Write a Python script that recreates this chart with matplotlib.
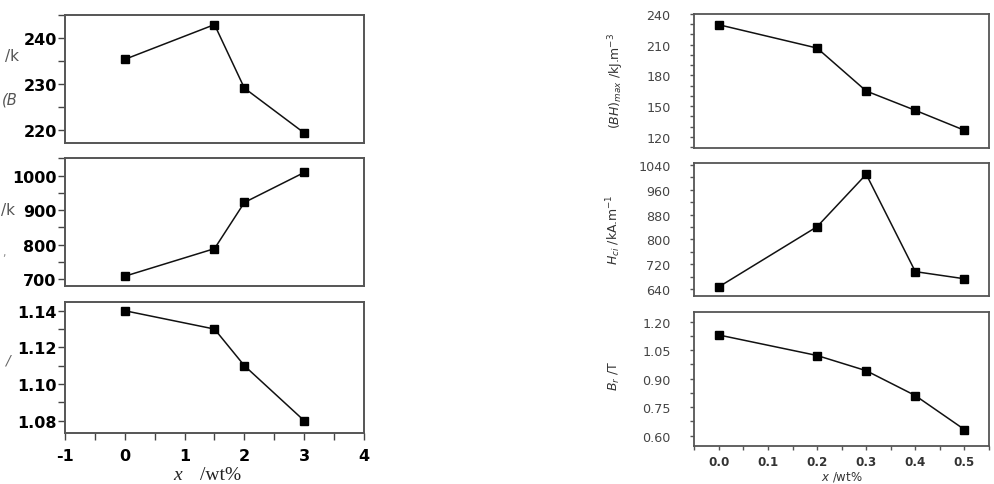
import numpy as np
import matplotlib.pyplot as plt
from matplotlib.ticker import MultipleLocator

plt.rcParams['axes.unicode_minus'] = False

# left figure (x = 0..3 wt%)
x_left = [0, 1.5, 2, 3]
bh_left = [235.4, 243.0, 229.1, 219.3]
hci_left = [708, 788, 922, 1009]
br_left = [1.14, 1.13, 1.11, 1.08]

# right figure (x = 0..0.5 wt%)
x_right = [0.0, 0.2, 0.3, 0.4, 0.5]
bh_right = [229.5, 206.7, 164.7, 145.8, 126.3]
hci_right = [647, 841, 1010, 696, 673]
br_right = [1.13, 1.022, 0.942, 0.811, 0.632]

W, H = 995, 485
fig = plt.figure(figsize=(W/100, H/100), dpi=100)


def caja(l, t, r, b):
    return fig.add_axes([l/W, 1-b/H, (r-l)/W, (b-t)/H])


def estilo(ax, color, lw):
    for s in ax.spines.values():
        s.set_color(color)
        s.set_linewidth(lw)


def izquierda(ax, x, y, ylim, mayor, menor, conx=False):
    ax.plot(x, y, '-s', color='#111111', lw=1.1, ms=5.5, mfc='black', mec='black')
    ax.set_xlim(-1, 4)
    ax.set_ylim(*ylim)
    ax.yaxis.set_major_locator(MultipleLocator(mayor))
    ax.yaxis.set_minor_locator(MultipleLocator(menor))
    ax.tick_params(axis='y', which='both', direction='out', length=5, width=1,
                   color='#444444', pad=1, labelsize=11.5)
    for t in ax.get_yticklabels():
        t.set_fontweight('bold')
    estilo(ax, '#555555', 1.4)
    if conx:
        ax.xaxis.set_major_locator(MultipleLocator(1))
        ax.xaxis.set_minor_locator(MultipleLocator(0.5))
        ax.tick_params(axis='x', which='both', direction='out', length=5, width=1,
                       color='#444444', pad=6, labelsize=11.5)
        for t in ax.get_xticklabels():
            t.set_fontweight('bold')
    else:
        ax.set_xticks([])


def derecha(ax, x, y, ylim, mayor, menor, conx=False):
    ax.plot(x, y, '-s', color='#111111', lw=1.1, ms=5.5, mfc='black', mec='black')
    ax.set_xlim(-0.05, 0.55)
    ax.set_ylim(*ylim)
    ax.yaxis.set_major_locator(MultipleLocator(mayor))
    ax.yaxis.set_minor_locator(MultipleLocator(menor))
    ax.tick_params(axis='y', which='both', direction='out', length=3, width=1,
                   color='#555555', pad=14, labelsize=9.2, labelcolor='#444444')
    estilo(ax, '#555555', 1.3)
    if conx:
        ax.xaxis.set_major_locator(MultipleLocator(0.1))
        ax.xaxis.set_minor_locator(MultipleLocator(0.05))
        ax.tick_params(axis='x', which='both', direction='out', length=3, width=1,
                       color='#555555', pad=4, labelsize=8.6, labelcolor='#333333')
        for t in ax.get_xticklabels():
            t.set_fontweight('bold')
    else:
        ax.set_xticks([])


a1 = caja(65, 16, 364, 144)
izquierda(a1, x_left, bh_left, (217.1, 245.1), 10, 5)
a2 = caja(65, 159, 364, 286.7)
izquierda(a2, x_left, hci_left, (680.5, 1051), 100, 50)
a3 = caja(65, 303.3, 364, 434)
izquierda(a3, x_left, br_left, (1.0733, 1.1446), 0.02, 0.01, conx=True)

b1 = caja(694.3, 15, 989, 149.3)
derecha(b1, x_right, bh_right, (108.7, 240), 30, 10)
b2 = caja(694.3, 164.3, 989, 296.7)
derecha(b2, x_right, hci_right, (618.4, 1045.5), 80, 40)
b3 = caja(694.3, 313.3, 989, 446.7)
derecha(b3, x_right, br_right, (0.547, 1.2495), 0.15, 0.075, conx=True)

# etiquetas del eje y (figura derecha)
fig.text(616/W, 1-81/H, r'$(BH)_{max}$ /kJ.m$^{-3}$', rotation=90,
         ha='center', va='center', fontsize=9, color='#333333')
fig.text(614/W, 1-230/H, r'$H_{ci}$ /kA.m$^{-1}$', rotation=90,
         ha='center', va='center', fontsize=9, color='#333333')
fig.text(614/W, 1-376/H, r'$B_r$ /T', rotation=90,
         ha='center', va='center', fontsize=9, color='#333333')

# restos recortados de las etiquetas de la figura izquierda
fig.text(12/W, 1-57/H, '/k', ha='center', va='center', fontsize=11, color='#555555')
fig.text(10/W, 1-100/H, '(B', ha='center', va='center', fontsize=10.5,
         color='#555555', style='italic')
fig.text(8/W, 1-211/H, '/k', ha='center', va='center', fontsize=11, color='#555555')
fig.text(4/W, 1-253/H, ',', ha='center', va='center', fontsize=8, color='#888888')
fig.text(7/W, 1-360/H, '/', ha='center', va='center', fontsize=10,
         color='#666666', style='italic')

# eje x (figura izquierda)
fig.text(178/W, 1-484/H, 'x', ha='center', va='bottom', fontsize=14,
         family='Liberation Serif', style='italic', color='#222222')
fig.text(221/W, 1-484/H, '/wt%', ha='center', va='bottom', fontsize=14,
         family='Liberation Serif', color='#222222')

# eje x (figura derecha), pegado al borde inferior
fig.text(842/W, 1-484/H, r'$x$ /wt%', ha='center', va='bottom', fontsize=8.5,
         color='#333333')

fig.savefig('out.png', dpi=100)
